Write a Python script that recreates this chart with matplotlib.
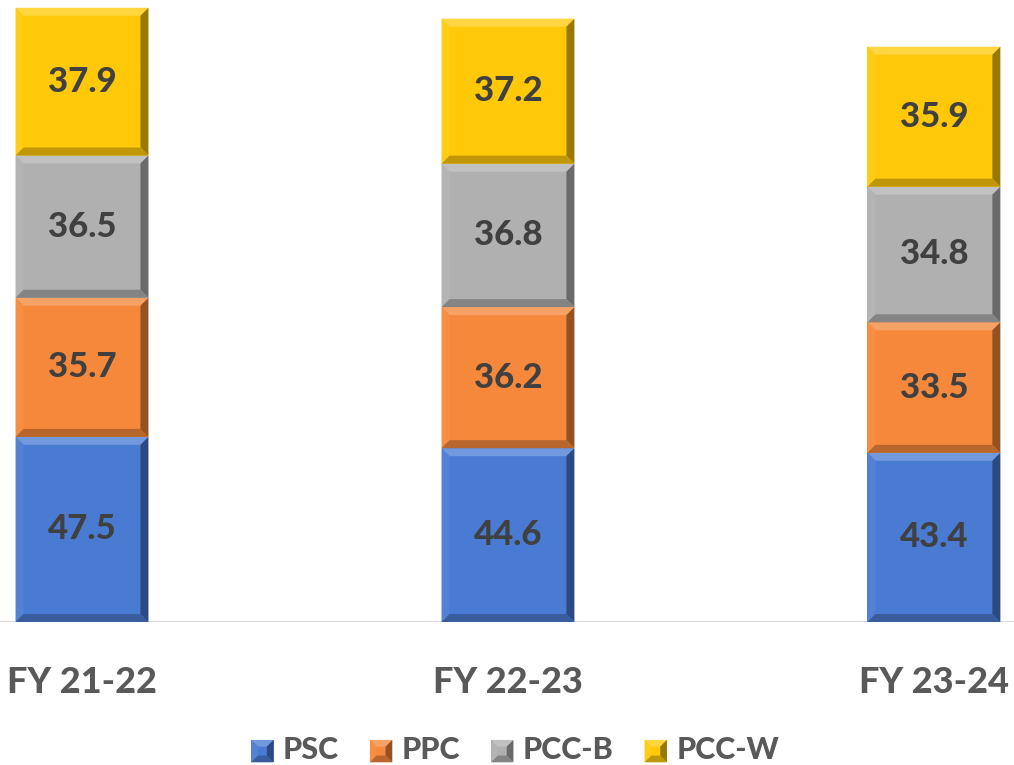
import matplotlib
matplotlib.use("Agg")
import matplotlib.colors as mcolors
import matplotlib.pyplot as plt
import numpy as np
from matplotlib.legend_handler import HandlerBase
from matplotlib.patches import Patch, Polygon, Rectangle

# ---- data ----
years = ["FY 21-22", "FY 22-23", "FY 23-24"]
series = ["PSC", "PPC", "PCC-B", "PCC-W"]
psc = [47.5, 44.6, 43.4]
ppc = [35.7, 36.2, 33.5]
pcc_b = [36.5, 36.8, 34.8]
pcc_w = [37.9, 37.2, 35.9]

colors = ["#4A7BD3", "#F5883A", "#B0B0B0", "#FFC90A"]
text_dark = "#404040"
text_grey = "#595959"
heavy = 900

plt.rcParams["font.family"] = ["Lato", "DejaVu Sans"]


def shade(c, f):
    rgb = np.array(mcolors.to_rgb(c))
    if f > 1:
        return tuple(rgb + (1 - rgb) * (f - 1))
    return tuple(rgb * f)


def bevel_polys(x0, y0, x1, y1, bx, by):
    top = [(x0, y1), (x1, y1), (x1 - bx, y1 - by), (x0 + bx, y1 - by)]
    left = [(x0, y0), (x0, y1), (x0 + bx, y1 - by), (x0 + bx, y0 + by)]
    right = [(x1, y0), (x1, y1), (x1 - bx, y1 - by), (x1 - bx, y0 + by)]
    bottom = [(x0, y0), (x1, y0), (x1 - bx, y0 + by), (x0 + bx, y0 + by)]
    return [(top, 1.22), (left, 1.05), (right, 0.6), (bottom, 0.75)]


class BevelHandler(HandlerBase):
    def create_artists(self, legend, orig_handle, xdescent, ydescent,
                       width, height, fontsize, trans):
        c = orig_handle.get_facecolor()
        s = height
        x0 = -xdescent + (width - s) / 2
        y0 = -ydescent + (height - s) / 2 - 2
        b = s * 0.3
        arts = [Rectangle((x0, y0), s, s, facecolor=c, edgecolor="none",
                          transform=trans)]
        for poly, f in bevel_polys(x0, y0, x0 + s, y0 + s, b, b):
            arts.append(Polygon(poly, closed=True, facecolor=shade(c, f),
                                edgecolor="none", transform=trans))
        return arts


fig = plt.figure(figsize=(10.14, 7.65), dpi=100)
ax = fig.add_axes([0, (765 - 622) / 765, 1, 622 / 765])

x = np.arange(len(years))
width = 0.312
ax.set_xlim(-0.1925, 2.188)
ax.set_ylim(0, 159.6)

# bevel size of 8 px, expressed in data units
p0 = ax.transData.transform((0, 0))
p1 = ax.transData.transform((1, 1))
bx = 8 / (p1[0] - p0[0])
by = 8 / (p1[1] - p0[1])

bottom = np.zeros(len(years))
for name, vals, col in zip(series, [psc, ppc, pcc_b, pcc_w], colors):
    bars = ax.bar(x, vals, width, bottom=bottom, color=col,
                  edgecolor="none", label=name, zorder=2)
    for rect, v in zip(bars, vals):
        rx, ry = rect.get_x(), rect.get_y()
        rw, rh = rect.get_width(), rect.get_height()
        for poly, f in bevel_polys(rx, ry, rx + rw, ry + rh, bx, by):
            ax.add_patch(Polygon(poly, closed=True, facecolor=shade(col, f),
                                 edgecolor="none", zorder=3))
        ax.text(rx + rw / 2, ry + rh / 2, f"{v:.1f}", ha="center",
                va="center", fontsize=25, fontweight=heavy,
                color=text_dark, zorder=4)
    bottom += np.array(vals)

ax.axhline(0, color="#D9D9D9", lw=1.5, zorder=1)
for s in ax.spines.values():
    s.set_visible(False)
ax.set_yticks([])
ax.set_xticks(x)
ax.set_xticklabels(years, fontsize=26, fontweight=heavy, color=text_grey)
ax.tick_params(axis="x", length=0, pad=32)

handles = [Patch(facecolor=c, label=n) for n, c in zip(series, colors)]
fig.legend(handles=handles, loc="center",
           bbox_to_anchor=(515 / 1014, 1 - 750 / 765),
           ncol=4, frameon=False, handlelength=0.75, handleheight=0.75,
           handletextpad=0.3, columnspacing=1.0,
           handler_map={Patch: BevelHandler()},
           prop={"size": 22, "weight": heavy}, labelcolor=text_grey)

fig.savefig("out.png", dpi=100)
